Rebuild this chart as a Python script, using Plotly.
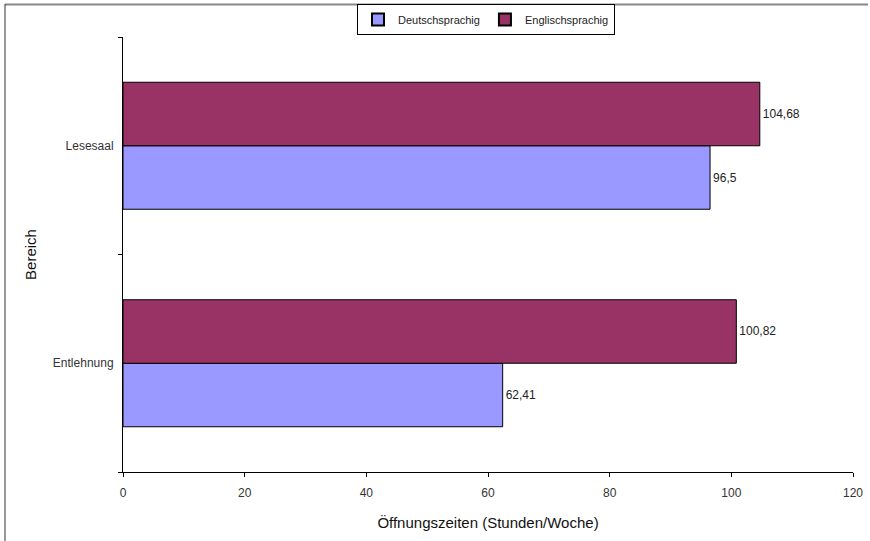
import plotly.graph_objects as go

categories = ["Entlehnung", "Lesesaal"]
deutsch = [62.41, 96.5]
englisch = [100.82, 104.68]
x_ticks = [0, 20, 40, 60, 80, 100, 120]

def fmt(v):
    s = ("%.2f" % v).rstrip("0").rstrip(".")
    return s.replace(".", ",")

W, H = 870, 541
L, R, T, B = 123, 17, 37, 69
pw, ph = W - L - R, H - T - B

def px_x(p):
    return (p - L) / pw

def px_y(p):
    return (H - B - p) / ph

font = "Liberation Sans, Arial, sans-serif"

fig = go.Figure()
fig.add_trace(go.Bar(
    y=categories, x=deutsch, orientation="h", name="Deutschsprachig",
    marker=dict(color="#9999FF", line=dict(color="#000000", width=1)),
    text=[fmt(v) for v in deutsch], textposition="outside",
    textfont=dict(size=12, color="#222222", family=font), cliponaxis=False,
))
fig.add_trace(go.Bar(
    y=categories, x=englisch, orientation="h", name="Englischsprachig",
    marker=dict(color="#993366", line=dict(color="#000000", width=1)),
    text=[fmt(v) for v in englisch], textposition="outside",
    textfont=dict(size=12, color="#222222", family=font), cliponaxis=False,
))

fig.update_layout(
    width=W, height=H,
    margin=dict(l=L, r=R, t=T, b=B, pad=0, autoexpand=False),
    paper_bgcolor="white", plot_bgcolor="white",
    barmode="group", bargap=0.416, bargroupgap=0,
    font=dict(family=font, size=12, color="#222222"),
    showlegend=True,
    legend=dict(
        orientation="h", x=px_x(486), xanchor="center", y=px_y(4), yanchor="top",
        bordercolor="#000000", borderwidth=1, bgcolor="white",
        font=dict(size=11, family=font, color="#222222"),
        itemwidth=30, tracegroupgap=0, itemsizing="constant",
    ),
    xaxis=dict(
        range=[0, 120], tickvals=x_ticks, ticktext=[str(v) for v in x_ticks],
        showgrid=False, zeroline=False, showline=True, linecolor="#000000", linewidth=1,
        ticks="outside", ticklen=4, tickcolor="#000000", automargin=False,
        ticklabelstandoff=6,
        tickfont=dict(size=12, family=font, color="#333333"),
        title=dict(text="Öffnungszeiten (Stunden/Woche)", font=dict(size=15, family=font, color="#111111"), standoff=18),
    ),
    yaxis=dict(
        categoryorder="array", categoryarray=categories,
        showgrid=False, zeroline=False, showline=True, linecolor="#000000", linewidth=1,
        ticks="outside", ticklen=4, tickcolor="#000000", tickson="boundaries", automargin=False,
        ticklabelstandoff=6,
        tickfont=dict(size=12, family=font, color="#333333"),
        title=dict(text="Bereich", font=dict(size=15, family=font, color="#111111"), standoff=12),
    ),
    shapes=[
        dict(type="line", xref="paper", yref="paper", x0=px_x(5), x1=px_x(868), y0=px_y(4.5), y1=px_y(4.5),
             line=dict(color="#888888", width=2)),
        dict(type="line", xref="paper", yref="paper", x0=px_x(5), x1=px_x(5), y0=px_y(4), y1=px_y(541),
             line=dict(color="#333333", width=1)),
    ],
)

fig.write_html("out.html")
